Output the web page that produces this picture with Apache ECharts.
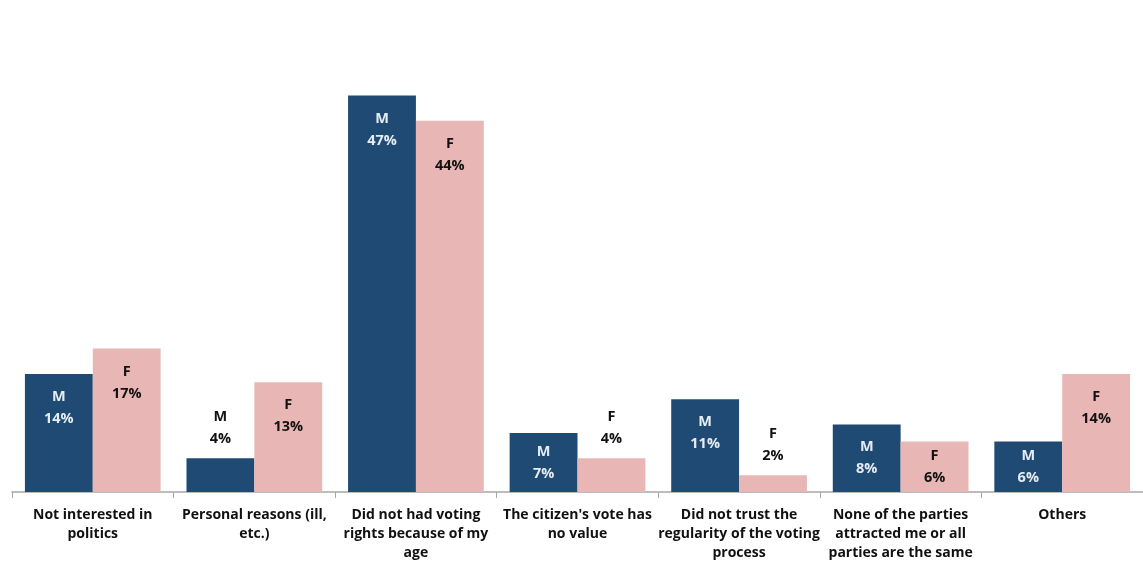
<!DOCTYPE html>
<html><head><meta charset="utf-8">
<script src="https://cdn.jsdelivr.net/npm/echarts@6/dist/echarts.min.js"></script>
<style>html,body{margin:0;padding:0;background:#fff}#c{width:1143px;height:567px}</style>
</head><body><div id="c"></div>
<script>
const categories = ["Not interested in\npolitics","Personal reasons (ill,\netc.)","Did not had voting\nrights because of my\nage","The citizen's vote has\nno value","Did not trust the\nregularity of the voting\nprocess","None of the parties\nattracted me or all\nparties are the same","Others"];
const maleValues = [14, 4, 47, 7, 11, 8, 6];
const femaleValues = [17, 13, 44, 4, 2, 6, 14];
const seriesNames = ["M", "F"];

const FONT = "'Open Sans', 'Liberation Sans', sans-serif";
function mkData(vals, letter, insideColor) {
  return vals.map(v => {
    const pos = v < 5 ? 'top' : (v < 10 ? 'inside' : 'insideTop');
    return {
      value: v,
      label: {
        show: true,
        position: pos,
        distance: pos === 'insideTop' ? 12 : 8,
        formatter: letter + '\n' + v + '%',
        color: pos === 'top' ? '#111' : insideColor,
        fontSize: 14.5, fontWeight: 'bold', fontFamily: FONT, lineHeight: 22
      }
    };
  });
}
const chart = echarts.init(document.getElementById('c'));
chart.setOption({
  animation: false,
  backgroundColor: '#fff',
  grid: { left: 12, right: -3, top: 28, bottom: 75, containLabel: false },
  xAxis: {
    type: 'category', data: categories,
    axisLine: { lineStyle: { color: '#a6a6a6', width: 1.5 } },
    axisTick: { show: true, length: 6, lineStyle: { color: '#a6a6a6' } },
    axisLabel: { interval: 0, color: '#111', fontSize: 14, fontWeight: 'bold', fontFamily: FONT, lineHeight: 19, margin: 14 }
  },
  yAxis: { type: 'value', min: 0, max: 55, show: false, splitLine: { show: false } },
  series: [
    { name: seriesNames[0], type: 'bar', data: mkData(maleValues, 'M', '#e6ecf3'), itemStyle: { color: '#1f4a73' }, barGap: '0%', barCategoryGap: '16%' },
    { name: seriesNames[1], type: 'bar', data: mkData(femaleValues, 'F', '#111'), itemStyle: { color: '#e8b7b5' }, barGap: '0%', barCategoryGap: '16%' }
  ]
});
</script></body></html>
